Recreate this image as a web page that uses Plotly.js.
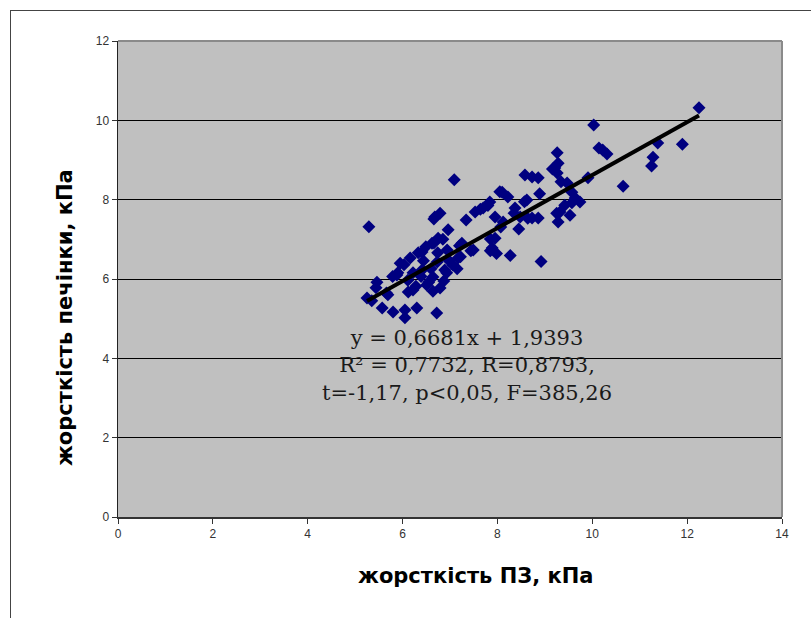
<!DOCTYPE html>
<html>
<head>
<meta charset="utf-8">
<script src="https://cdn.plot.ly/plotly-3.0.1.min.js"></script>
<style>
  html, body { margin: 0; padding: 0; background: #ffffff; }
  #wrap { position: relative; width: 811px; height: 618px; }
  #chart { position: absolute; left: 0; top: 0; width: 811px; height: 618px; }
  #frame { position: absolute; left: 10px; top: 10px; width: 801px; height: 608px;
           border-top: 1.5px solid #444; border-left: 1.5px solid #444; pointer-events: none; }
</style>
</head>
<body>
<div id="wrap">
  <div id="chart"></div>
  <div id="frame"></div>
</div>
<script>
// Liver stiffness vs. pancreas (ПЗ) stiffness, kPa
const stiffnessPZ = [
  5.29, 5.25, 5.35, 5.46, 5.44, 5.57, 5.69, 5.66, 5.80, 5.79,
  5.88, 5.95, 5.90, 6.03, 6.05, 6.05, 6.12, 6.11, 6.16, 6.22,
  6.22, 6.28, 6.30, 6.33, 6.39, 6.41, 6.41, 6.44, 6.49, 6.51,
  6.55, 6.60, 6.62, 6.64, 6.64, 6.66, 6.66, 6.68, 6.72, 6.73,
  6.74, 6.75, 6.79, 6.79, 6.85, 6.87, 6.89, 6.93, 6.94, 6.96,
  6.98, 7.06, 7.09, 7.15, 7.17, 7.20, 7.22, 7.25, 7.34, 7.44,
  7.49, 7.53, 7.64, 7.70, 7.80, 7.84, 7.85, 7.85, 7.89, 7.95,
  7.95, 7.98, 8.05, 8.07, 8.10, 8.12, 8.22, 8.27, 8.35, 8.37,
  8.45, 8.48, 8.57, 8.58, 8.62, 8.64, 8.73, 8.73, 8.86, 8.86,
  8.89, 8.92, 9.16, 9.21, 9.26, 9.28, 9.26, 9.34, 9.47, 9.57,
  9.64, 9.74, 9.57, 9.42, 9.32, 9.53, 9.28, 9.25, 9.91, 10.03,
  10.14, 10.22, 10.31, 10.65, 11.25, 11.28, 11.38, 11.90, 12.25
];
const stiffnessLiver = [
  7.32, 5.52, 5.45, 5.92, 5.78, 5.27, 5.60, 5.65, 5.17, 6.06,
  6.10, 6.40, 6.16, 6.36, 5.22, 5.02, 5.67, 5.97, 6.53, 6.16,
  5.72, 5.82, 5.27, 6.66, 6.06, 6.68, 6.23, 6.46, 6.81, 5.85,
  5.92, 6.26, 6.90, 6.05, 5.69, 6.91, 7.51, 7.56, 5.14, 6.43,
  6.66, 7.03, 5.77, 7.66, 7.00, 5.95, 6.23, 6.16, 6.73, 7.24,
  6.46, 6.35, 8.50, 6.26, 6.53, 6.84, 6.56, 6.90, 7.49, 6.71,
  6.73, 7.69, 7.76, 7.79, 7.85, 7.94, 7.01, 6.71, 6.78, 7.56,
  7.03, 6.64, 8.20, 7.31, 8.19, 7.44, 8.07, 6.59, 7.66, 7.79,
  7.26, 7.56, 7.95, 8.62, 7.99, 7.53, 8.57, 7.54, 8.55, 7.54,
  8.15, 6.44, 8.77, 8.80, 9.18, 8.92, 8.67, 8.45, 8.42, 8.19,
  8.04, 7.94, 7.92, 7.86, 7.69, 7.61, 7.44, 7.66, 8.55, 9.88,
  9.30, 9.25, 9.15, 8.34, 8.85, 9.07, 9.43, 9.40, 10.32
];
// Linear trend line shown on the chart: y = 0,6681x + 1,9393
const trendSlope = 0.6681;
const trendIntercept = 1.9393;
const trendRangeX = [5.25, 12.25];
const xTicks = [0, 2, 4, 6, 8, 10, 12, 14];
const yTicks = [0, 2, 4, 6, 8, 10, 12];
const xTitle = 'жорсткість ПЗ, кПа';
const yTitle = 'жорсткість печінки, кПа';
const equationLines = [
  "y = 0,6681x + 1,9393",
  "R² = 0,7732, R=0,8793,",
  "t=-1,17, p<0,05, F=385,26"
];

const trendY = trendRangeX.map(x => trendSlope * x + trendIntercept);

const titleFont = { family: 'DejaVu Sans, Liberation Sans, Arial, sans-serif', size: 21, color: '#000', weight: 'bold' };

const traces = [
  {
    type: 'scatter', mode: 'markers',
    x: stiffnessPZ, y: stiffnessLiver,
    marker: { symbol: 'diamond', size: 10, color: '#000080', line: { width: 0 } },
    hoverinfo: 'x+y', showlegend: false
  },
  {
    type: 'scatter', mode: 'lines',
    x: trendRangeX, y: trendY,
    line: { color: '#000000', width: 4 },
    hoverinfo: 'skip', showlegend: false
  }
];

const layout = {
  width: 811, height: 618,
  margin: { l: 118, r: 29, t: 41, b: 101 },
  paper_bgcolor: '#ffffff',
  plot_bgcolor: '#c0c0c0',
  showlegend: false,
  font: { family: 'Liberation Sans, Arial, sans-serif', color: '#222' },
  xaxis: {
    range: [0, 14], tickvals: xTicks, ticktext: xTicks.map(String),
    showgrid: false, zeroline: false,
    showline: true, linecolor: '#333', linewidth: 1.5,
    ticks: 'outside', ticklen: 5, tickcolor: '#333',
    tickfont: { family: 'Liberation Sans, Arial, sans-serif', size: 12, color: '#333' },
    automargin: false, fixedrange: true
  },
  yaxis: {
    range: [0, 12], tickvals: yTicks, ticktext: yTicks.map(String),
    showgrid: true, gridcolor: '#000000', gridwidth: 1,
    zeroline: false,
    showline: true, linecolor: '#222', linewidth: 1.5,
    ticks: 'outside', ticklen: 5, tickcolor: '#333',
    tickfont: { family: 'Liberation Sans, Arial, sans-serif', size: 12, color: '#333' },
    automargin: false, fixedrange: true
  },
  shapes: [
    { type: 'line', xref: 'paper', yref: 'paper', x0: 0, x1: 1, y0: 1, y1: 1,
      line: { color: '#8a8a8a', width: 2 } },
    { type: 'line', xref: 'paper', yref: 'paper', x0: 1, x1: 1, y0: 0, y1: 1,
      line: { color: '#8a8a8a', width: 2 } }
  ],
  annotations: [
    {
      xref: 'x', yref: 'y', x: 7.36, y: 3.81,
      text: equationLines.join('<br>'),
      showarrow: false, align: 'center',
      font: { family: 'DejaVu Serif, Liberation Serif, serif', size: 21, color: '#1a1a1a' }
    },
    {
      xref: 'paper', yref: 'paper', x: 0.539, y: -0.124,
      xanchor: 'center', yanchor: 'middle',
      text: xTitle, showarrow: false, font: titleFont
    },
    {
      xref: 'paper', yref: 'paper', x: -0.0798, y: 0.418,
      xanchor: 'center', yanchor: 'middle', textangle: -90,
      text: yTitle, showarrow: false, font: titleFont
    }
  ]
};

Plotly.newPlot('chart', traces, layout, { displayModeBar: false, staticPlot: true });
</script>
</body>
</html>
